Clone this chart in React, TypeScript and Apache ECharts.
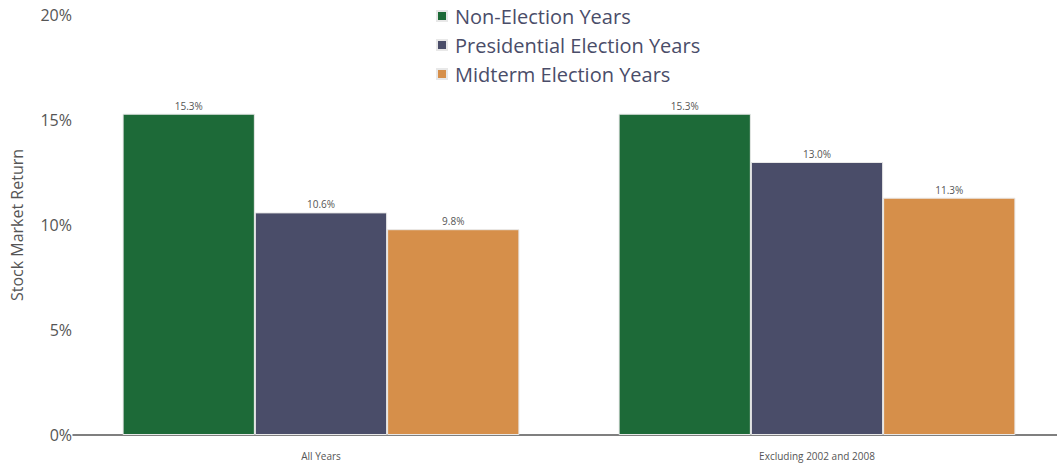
import React, { useEffect, useRef } from "react";
import * as echarts from "echarts";

const categories = ["All Years", "Excluding 2002 and 2008"];
const seriesNames = ["Non-Election Years", "Presidential Election Years", "Midterm Election Years"];
const nonElection = [15.3, 15.3];
const presidential = [10.6, 13.0];
const midterm = [9.8, 11.3];
const colors = ["#1d6a38", "#4a4d69", "#d68f4a"];
const yTicks = [0, 5, 10, 15, 20];

export default function App() {
  const ref = useRef<HTMLDivElement>(null);
  useEffect(() => {
    if (!ref.current) return;
    const chart = echarts.init(ref.current, null, { renderer: "svg" });
    const values = [nonElection, presidential, midterm];
    chart.setOption({
      animation: false,
      textStyle: { fontFamily: "Open Sans" },
      legend: {
        orient: "vertical",
        left: 431,
        top: 1,
        itemWidth: 10,
        itemHeight: 10,
        itemGap: 9,
        icon: "rect",
        textStyle: { fontSize: 20, color: "#4a4d69", fontFamily: "Open Sans", padding: [0, 0, 0, 3] },
        data: seriesNames,
      },
      grid: { left: 73, width: 992, top: 15, bottom: 30, outerBoundsMode: "none", containLabel: false },
      xAxis: {
        type: "category",
        data: categories,
        axisLine: { show: true, lineStyle: { color: "#555", width: 1.5 } },
        axisTick: { show: false },
        axisLabel: { fontSize: 10, color: "#555", margin: 16 },
      },
      yAxis: {
        type: "value",
        min: yTicks[0],
        max: yTicks[yTicks.length - 1],
        interval: 5,
        name: "Stock Market Return",
        nameLocation: "middle",
        nameGap: 48,
        nameTextStyle: { fontSize: 16, color: "#555" },
        splitLine: { show: false },
        axisLine: { show: false },
        axisTick: { show: false },
        axisLabel: { fontSize: 16, color: "#555", margin: 1, formatter: (v: number) => v + "%" },
      },
      series: seriesNames.map((name, i) => ({
        name,
        type: "bar",
        data: values[i],
        barGap: "0%",
        barCategoryGap: "20%",
        itemStyle: { color: colors[i], borderColor: "#e8e8e8", borderWidth: 1 },
        label: {
          show: true,
          position: "top",
          fontSize: 10,
          color: "#555",
          distance: 3,
          formatter: (p: any) => p.value.toFixed(1) + "%",
        },
      })),
    });
    return () => chart.dispose();
  }, []);
  return (
    <div
      ref={ref}
      style={{ position: "fixed", left: 0, top: 0, width: 1057, height: 465, background: "#fff" }}
    />
  );
}
